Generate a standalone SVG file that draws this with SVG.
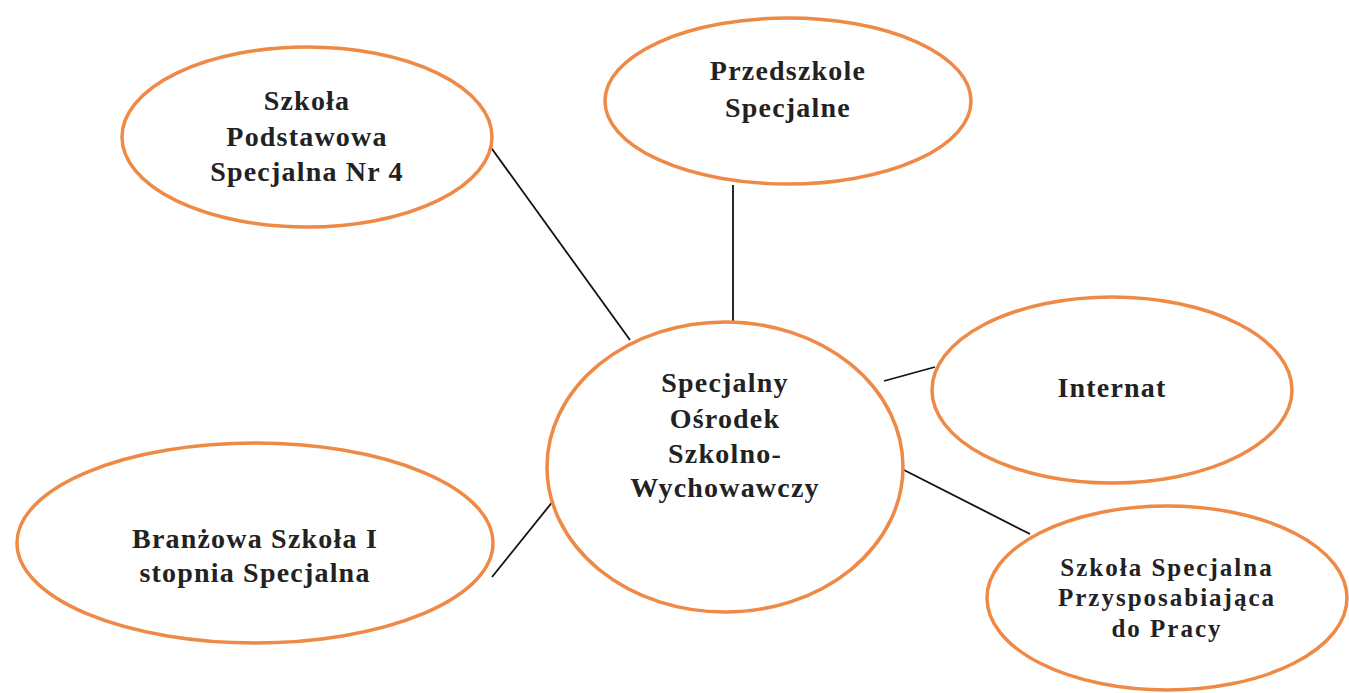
<svg xmlns="http://www.w3.org/2000/svg" width="1349" height="693" viewBox="0 0 1349 693">
<style>
.n ellipse{fill:#fff;stroke:#EE8A45;stroke-width:3.5}
.n text{font-family:"Liberation Serif","Times New Roman",serif;font-weight:bold;font-size:28px;fill:#222;text-anchor:middle;letter-spacing:1.2px}
.c line{stroke:#111;stroke-width:1.8}
</style>
<rect width="1349" height="693" fill="#fff"/>
<g class="c" id="connectors">
<line x1="487" y1="142" x2="630" y2="340"/>
<line x1="733" y1="185" x2="733" y2="322"/>
<line x1="884" y1="381" x2="935" y2="367"/>
<line x1="900" y1="468" x2="1030" y2="534"/>
<line x1="566" y1="485" x2="492" y2="577"/>
</g>
<g class="n" id="szkola-podstawowa">
<ellipse cx="307" cy="137" rx="185" ry="90"/>
<text x="307" y="110">Szkoła</text>
<text x="307" y="146">Podstawowa</text>
<text x="307" y="181">Specjalna Nr 4</text>
</g>
<g class="n" id="przedszkole">
<ellipse cx="788" cy="101" rx="183" ry="83"/>
<text x="788" y="80">Przedszkole</text>
<text x="788" y="117">Specjalne</text>
</g>
<g class="n" id="osrodek">
<ellipse cx="725" cy="467" rx="178" ry="145"/>
<text x="725" y="392">Specjalny</text>
<text x="725" y="428">Ośrodek</text>
<text x="725" y="463">Szkolno-</text>
<text x="725" y="497">Wychowawczy</text>
</g>
<g class="n" id="internat">
<ellipse cx="1112" cy="390" rx="180" ry="93"/>
<text x="1112" y="397">Internat</text>
</g>
<g class="n" id="przysposabiajaca">
<ellipse cx="1167" cy="598" rx="180" ry="92"/>
<text x="1167" y="576" style="font-size:25px;letter-spacing:2px">Szkoła Specjalna</text>
<text x="1167" y="606" style="font-size:25px;letter-spacing:2px">Przysposabiająca</text>
<text x="1167" y="637" style="font-size:25px;letter-spacing:2px">do Pracy</text>
</g>
<g class="n" id="branzowa">
<ellipse cx="255" cy="543" rx="238" ry="100"/>
<text x="255" y="548">Branżowa Szkoła I</text>
<text x="255" y="582">stopnia Specjalna</text>
</g>
</svg>
